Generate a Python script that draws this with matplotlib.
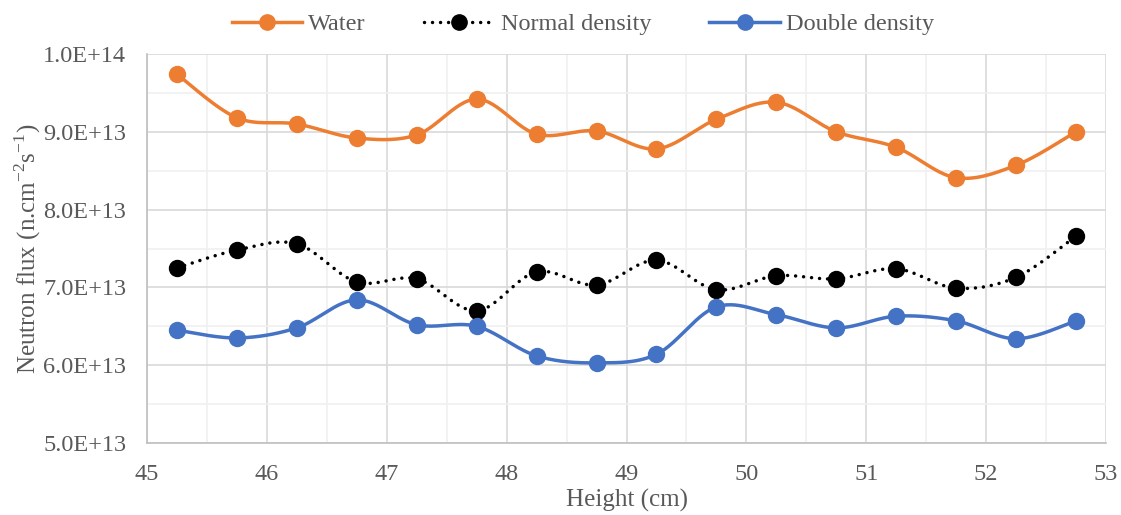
import numpy as np
import matplotlib
matplotlib.use('Agg')
import matplotlib.pyplot as plt
from matplotlib.ticker import MultipleLocator, FuncFormatter

plt.rcParams['font.family'] = ['Liberation Serif', 'DejaVu Serif']

# data
height = [45.25, 45.75, 46.25, 46.75, 47.25, 47.75, 48.25, 48.75,
          49.25, 49.75, 50.25, 50.75, 51.25, 51.75, 52.25, 52.75]
water = [9.74, 9.18, 9.10, 8.92, 8.96, 9.42, 8.97, 9.01,
         8.78, 9.16, 9.38, 9.00, 8.80, 8.41, 8.57, 9.00]
normal = [7.25, 7.48, 7.56, 7.07, 7.11, 6.70, 7.20, 7.03,
          7.35, 6.97, 7.15, 7.11, 7.24, 6.99, 7.13, 7.66]
double = [6.45, 6.35, 6.48, 6.84, 6.52, 6.50, 6.12, 6.03,
          6.14, 6.75, 6.65, 6.48, 6.63, 6.57, 6.34, 6.57]
scale = 1e13


def smooth(x, y, n=30):
    # Excel style smoothed line: bezier through points, tangents from neighbours
    x = np.asarray(x, float)
    y = np.asarray(y, float)
    px = np.concatenate([[x[0]], x, [x[-1]]])
    py = np.concatenate([[y[0]], y, [y[-1]]])
    xs, ys = [], []
    t = np.linspace(0, 1, n)
    for i in range(len(x) - 1):
        p0 = np.array([x[i], y[i]])
        p3 = np.array([x[i + 1], y[i + 1]])
        p1 = p0 + (np.array([px[i + 2], py[i + 2]]) - np.array([px[i], py[i]])) / 6
        p2 = p3 - (np.array([px[i + 3], py[i + 3]]) - np.array([px[i + 1], py[i + 1]])) / 6
        b = ((1 - t) ** 3)[:, None] * p0 + (3 * (1 - t) ** 2 * t)[:, None] * p1 \
            + (3 * (1 - t) * t ** 2)[:, None] * p2 + (t ** 3)[:, None] * p3
        xs.extend(b[:, 0])
        ys.extend(b[:, 1])
    return np.array(xs), np.array(ys)


fig = plt.figure(figsize=(11.21, 5.15), dpi=100)
ax = fig.add_axes([147 / 1121, 1 - 443 / 515, 959 / 1121, 389 / 515])

dots = (0, (0.01, 2.3))
series = [
    ('Water', water, '#ED7D31', '-'),
    ('Normal density', normal, '#000000', dots),
    ('Double density', double, '#4472C4', '-'),
]
for name, vals, col, ls in series:
    yv = np.array(vals) * scale
    sx, sy = smooth(height, yv)
    ax.plot(sx, sy, color=col, lw=2.5, ls=ls, dash_capstyle='round', zorder=3)
    ax.plot(height, yv, 'o', color=col, ms=11.5, zorder=4)
    ax.plot([], [], color=col, lw=2.5, ls=ls, marker='o', ms=11,
            dash_capstyle='round', label=name)

ax.set_xlim(45, 53)
ax.set_ylim(5e13, 1e14)
ax.xaxis.set_major_locator(MultipleLocator(1))
ax.xaxis.set_minor_locator(MultipleLocator(0.5))
ax.yaxis.set_major_locator(MultipleLocator(1e13))
ax.yaxis.set_minor_locator(MultipleLocator(0.5e13))
ax.yaxis.set_major_formatter(FuncFormatter(lambda v, p: f'{v:.1E}'))
ax.yaxis.get_offset_text().set_visible(False)

ax.grid(which='major', color='#d9d9d9', lw=1.2, zorder=0)
ax.grid(which='minor', color='#f0f0f0', lw=1.2, zorder=0)
ax.set_axisbelow(True)
for s in ['top', 'right']:
    ax.spines[s].set_visible(False)
for s in ['left', 'bottom']:
    ax.spines[s].set_color('#bfbfbf')
    ax.spines[s].set_linewidth(1.2)

ax.tick_params(which='both', length=0, labelsize=17.5, labelcolor='#595959')
ax.tick_params(axis='x', pad=15)
ax.tick_params(axis='y', pad=15)

ax.set_xlabel('Height (cm)', fontsize=18, color='#595959')
ax.xaxis.set_label_coords(0.5, -0.118)
ax.set_ylabel(r'Neutron flux (n.cm$^{\mathregular{-2}}$s$^{\mathregular{-1}}$)',
              fontsize=18, color='#595959')
ax.yaxis.set_label_coords(-0.108, 0.5)

fig.legend(loc='center', bbox_to_anchor=(0.52, 0.953), ncol=3, frameon=False,
           fontsize=17.5, labelcolor='#595959', handlelength=2.9,
           columnspacing=2.4, handletextpad=0.25)

fig.savefig('out.png', dpi=100)
